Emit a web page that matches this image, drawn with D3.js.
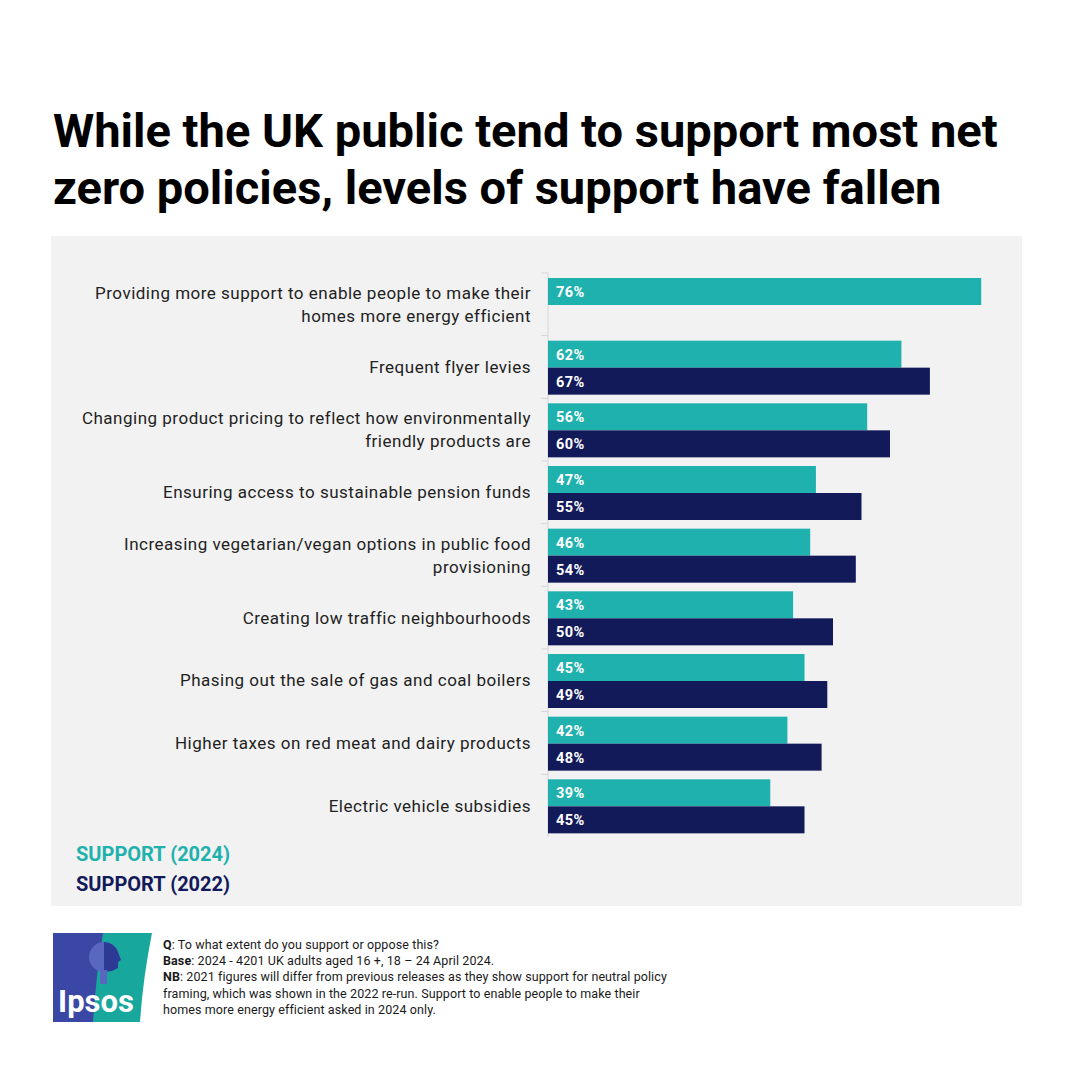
<!DOCTYPE html>
<html>
<head>
<meta charset="utf-8">
<script src="https://cdn.jsdelivr.net/npm/d3@7"></script>
<style>
  html, body { margin: 0; padding: 0; background: #ffffff; }
  svg { display: block; }
</style>
</head>
<body>
<svg id="chart" width="1077" height="1077"></svg>
<script>
// ---------- DATA ----------
const titleLines = [
  "While the UK public tend to support most net",
  "zero policies, levels of support have fallen"
];
const categories = [
  "Providing more support to enable people to make their\nhomes more energy efficient",
  "Frequent flyer levies",
  "Changing product pricing to reflect how environmentally\nfriendly products are",
  "Ensuring access to sustainable pension funds",
  "Increasing vegetarian/vegan options in public food\nprovisioning",
  "Creating low traffic neighbourhoods",
  "Phasing out the sale of gas and coal boilers",
  "Higher taxes on red meat and dairy products",
  "Electric vehicle subsidies"
];
const seriesNames = ["SUPPORT (2024)", "SUPPORT (2022)"];
const support2024 = [76, 62, 56, 47, 46, 43, 45, 42, 39];
const support2022 = [null, 67, 60, 55, 54, 50, 49, 48, 45];
const footnotes = [
  [["Q", true], [": To what extent do you support or oppose  this?", false]],
  [["Base", true], [": 2024 - 4201 UK adults aged 16 +, 18 \u2013 24 April 2024.", false]],
  [["NB", true], [": 2021 figures will differ from previous releases as they show  support for neutral policy", false]],
  [["framing, which was shown in the 2022 re-run. Support to enable people to make their", false]],
  [["homes more energy efficient asked in 2024 only.", false]]
];

// ---------- STYLE ----------
const TEAL = "#1fb1ad";
const NAVY = "#131a5a";
const FONT = "Roboto, 'Noto Sans', sans-serif";

const svg = d3.select("#chart");

// background panel
svg.append("rect").attr("x", 51).attr("y", 236).attr("width", 971).attr("height", 670).attr("fill", "#f2f2f2");

// title
const title = svg.append("g");
titleLines.forEach((t, i) => {
  title.append("text")
    .attr("x", 53).attr("y", 147 + i * 57)
    .attr("font-family", FONT).attr("font-weight", 700)
    .attr("font-size", 44).attr("fill", "#000")
    .text(t);
});
const w0 = title.select("text").node().getComputedTextLength();
const fs = Math.min(48, 44 * 945 / w0);
title.selectAll("text").attr("font-size", fs);

// scales
const x = d3.scaleLinear().domain([0, 100]).range([548, 1118]);
const y = d3.scaleBand().domain(categories).range([273, 837]);
const yInner = d3.scaleBand().domain(seriesNames).range([5, 59]);

// axis line with ticks at band boundaries
const ag = svg.append("g").attr("transform", "translate(548,0)");
ag.append("line").attr("x1", 0).attr("x2", 0).attr("y1", y.range()[0]).attr("y2", y.range()[1])
  .attr("stroke", "#d6d6d6");
const bounds = categories.map(c => y(c));
ag.selectAll("line.b").data(bounds).enter().append("line").attr("class", "b")
  .attr("x1", -7).attr("x2", 0).attr("y1", d => d).attr("y2", d => d)
  .attr("stroke", "#d6d6d6");

// bars
const rows = categories.map((c, i) => ({ c, v: [support2024[i], support2022[i]] }));
const colors = [TEAL, NAVY];
rows.forEach(r => {
  r.v.forEach((v, j) => {
    if (v == null) return;
    const yy = y(r.c) + yInner(seriesNames[j]);
    svg.append("rect")
      .attr("x", x(0)).attr("y", yy)
      .attr("width", x(v) - x(0)).attr("height", yInner.bandwidth())
      .attr("fill", colors[j]);
    svg.append("text")
      .attr("x", x(0) + 8).attr("y", yy + yInner.bandwidth() / 2 + 1)
      .attr("dominant-baseline", "central")
      .attr("font-family", FONT).attr("font-weight", 700)
      .attr("font-size", 14.5).attr("letter-spacing", 0.4).attr("fill", "#fff")
      .text(v + "%");
  });
});

// category labels
categories.forEach(c => {
  const lines = c.split("\n");
  const cy = y(c) + y.bandwidth() / 2;
  const t = svg.append("text")
    .attr("x", 531).attr("text-anchor", "end")
    .attr("font-family", FONT).attr("font-weight", 400)
    .attr("font-size", 17).attr("letter-spacing", 0.5).attr("fill", "#222");
  const lh = 23;
  lines.forEach((l, i) => {
    t.append("tspan").attr("x", 531)
      .attr("y", cy + (i - (lines.length - 1) / 2) * lh)
      .attr("dominant-baseline", "central")
      .text(l);
  });
});

// legend
seriesNames.forEach((s, i) => {
  svg.append("text")
    .attr("x", 76).attr("y", 854 + i * 30)
    .attr("dominant-baseline", "central")
    .attr("font-family", FONT).attr("font-weight", 700)
    .attr("font-size", 20).attr("fill", colors[i])
    .text(s);
});

// footnotes
footnotes.forEach((parts, i) => {
  const t = svg.append("text")
    .attr("x", 163).attr("y", 949 + i * 16.2)
    .attr("font-family", FONT).attr("font-size", 12.5)
    .attr("letter-spacing", 0.1)
    .attr("fill", "#1a1a1a");
  parts.forEach(p => {
    t.append("tspan").attr("font-weight", p[1] ? 700 : 400).text(p[0]);
  });
});

// Ipsos logo (simplified)
const logo = svg.append("g");
logo.append("rect").attr("x", 53).attr("y", 933).attr("width", 60).attr("height", 89).attr("fill", "#3a47a4");
logo.append("path")
  .attr("d", "M103,933 L152,933 Q143,978 140,1022 L93,1022 Q96,975 103,933 Z")
  .attr("fill", "#17a79d");
logo.append("circle").attr("cx", 104).attr("cy", 957).attr("r", 15).attr("fill", "#5868c0");
logo.append("path")
  .attr("d", "M104,942 A15,15 0 0 1 118,952 L121,960 L118,962 L118,968 L112,971 L104,972 Z")
  .attr("fill", "#2c3a96");
logo.append("rect").attr("x", 100).attr("y", 970).attr("width", 7).attr("height", 14).attr("fill", "#5868c0");
logo.append("text")
  .attr("x", 96).attr("y", 1012).attr("text-anchor", "middle")
  .attr("font-family", FONT).attr("font-weight", 700)
  .attr("font-size", 31).attr("fill", "#fff")
  .text("Ipsos");
</script>
</body>
</html>
